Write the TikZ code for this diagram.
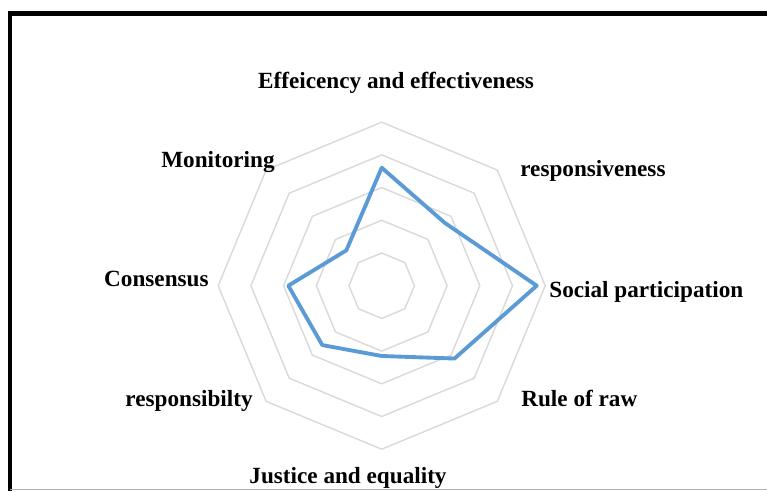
\documentclass[tikz,border=0pt]{standalone}
\usepackage{fontspec}
\setmainfont{Liberation Serif}
\usepackage{tikz}
\definecolor{radarblue}{RGB}{91,155,213}
\definecolor{ringgray}{RGB}{217,217,217}
\tikzset{
	axislabel/.style={font=\bfseries\fontsize{13.2}{15}\selectfont, inner sep=0pt},
	ring/.style={ringgray, line width=0.8pt},
	datapoly/.style={radarblue, line width=2.2pt, line join=round},
}

\begin{document}
\begin{tikzpicture}[x=0.02cm, y=0.02cm]
			\useasboundingbox (0, 0) rectangle (767, 491);
			% Rahmen links + oben, unten grau
			\draw[line width=2.6pt] (10, 0) -- (10, 477.3) -- (767, 477.3);
			\draw[gray!60, line width=0.6pt] (10, 1.5) -- (767, 1.5);
			
			\begin{scope}[shift={(381.7, 205.3)}]
				% Netz aus 5 Achtecken
				\foreach \r in {32.7, 65.4, 98.1, 130.8, 163.5}
					\draw[ring] (90:\r) -- (45:\r) -- (0:\r) -- (-45:\r) -- (-90:\r) -- (-135:\r) -- (180:\r) -- (135:\r) -- cycle;
				
				% Werte
				\draw[datapoly] (90:118) -- (45:89) -- (0:155) -- (-45:103) -- (-90:70.3) -- (-135:84) -- (180:93.4) -- (135:50) -- cycle;
			\end{scope}
			
			% Achsenbeschriftungen
			\node[axislabel, anchor=base] (eff) at (396, 402) {Effeicency and effectiveness};
			\node[axislabel, anchor=base west] (resp) at (520, 315) {responsiveness};
			\node[axislabel, anchor=base west] (soc) at (549, 194) {Social participation};
			\node[axislabel, anchor=base west] (rule) at (521, 85) {Rule of raw};
			\node[axislabel, anchor=base] (just) at (348, 8) {Justice and equality};
			\node[axislabel, anchor=base east] (respb) at (253, 85) {responsibilty};
			\node[axislabel, anchor=base east] (cons) at (209, 205) {Consensus};
			\node[axislabel, anchor=base east] (mon) at (275, 324) {Monitoring};
		\end{tikzpicture}
\end{document}
